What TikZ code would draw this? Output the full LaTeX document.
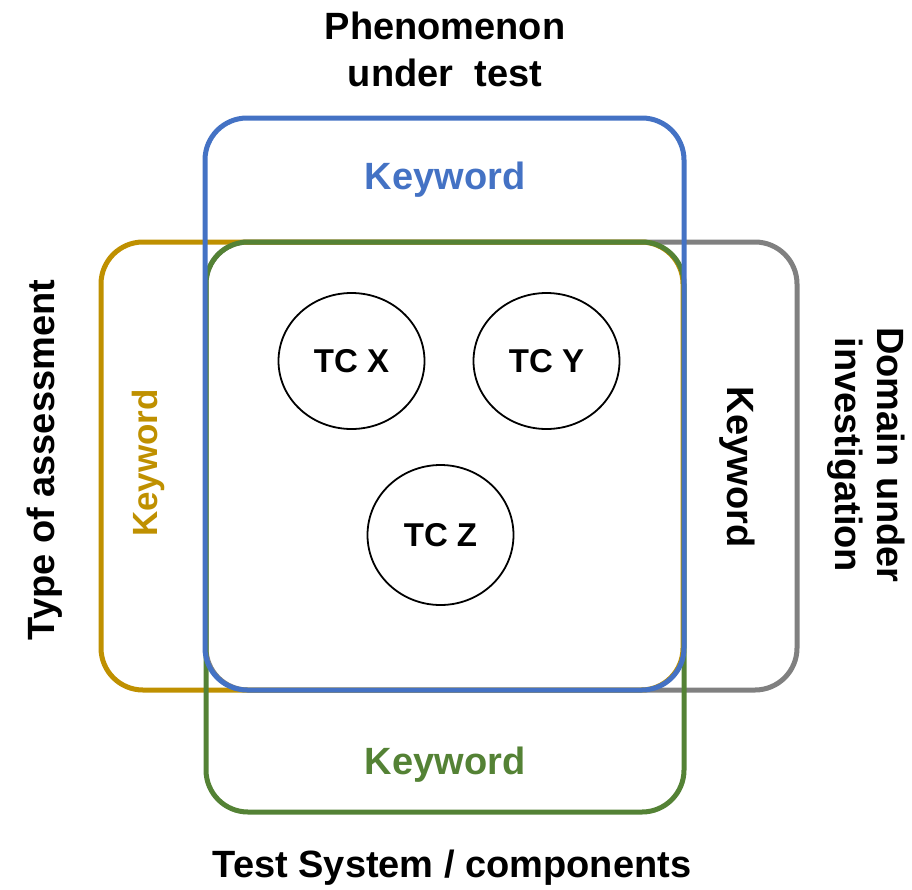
\documentclass[tikz,border=0pt]{standalone}
\usepackage{fontspec}
\setmainfont{Liberation Sans}
\usetikzlibrary{shapes.geometric}

\definecolor{kwblue}{HTML}{4472C4}
\definecolor{kwgreen}{HTML}{548235}
\definecolor{kwgold}{HTML}{BF9000}
\definecolor{kwgray}{HTML}{808080}

\tikzset{
  frame/.style={line width=5pt, rounded corners=42pt},
  label/.style={inner sep=0pt, font=\fontsize{38}{46}\selectfont\bfseries, align=center},
  kw/.style={inner sep=0pt, font=\fontsize{38}{46}\selectfont\bfseries},
  tc/.style={ellipse, draw=black, line width=1.8pt, minimum width=146pt, minimum height=136pt,
             inner sep=0pt, font=\fontsize{33}{40}\selectfont\bfseries},
}

\begin{document}
\begin{tikzpicture}[x=1pt, y=-1pt]
  \useasboundingbox (0,0) rectangle (912,889);

  % category frames, back to front
  \draw[frame, kwgray]  (206,242) rectangle (797,690);
  \draw[frame, kwgold]  (101,242) rectangle (683,690);
  \draw[frame, kwgreen] (206,242) rectangle (684,812);
  \draw[frame, kwblue]  (205,118) rectangle (684,690);

  % outer category titles
  \node[label] (phen) at (445,49) {Phenomenon\\[1pt]under\ \ test};
  \node[label, rotate=90] (assess) at (45,460) {Type of assessment};
  \node[label, rotate=-90] (domain) at (866,455) {Domain under\\[-4pt]investigation};
  \node[label] (system) at (452,868) {Test System / components};

  % keywords inside each frame
  \node[kw, text=kwblue] (kwtop) at (445,180) {Keyword};
  \node[kw, text=kwgreen] (kwbottom) at (445,765) {Keyword};
  \node[kw, text=kwgold, rotate=90, font=\fontsize{35}{42}\selectfont\bfseries] (kwleft) at (148,463) {Keyword};
  \node[kw, text=black, rotate=-90] (kwright) at (737,467) {Keyword};

  % test cases
  \node[tc] (tcx) at (351.5,361) {TC X};
  \node[tc] (tcy) at (546.5,361) {TC Y};
  \node[tc, minimum height=140pt] (tcz) at (440.5,535) {TC Z};
\end{tikzpicture}
\end{document}
